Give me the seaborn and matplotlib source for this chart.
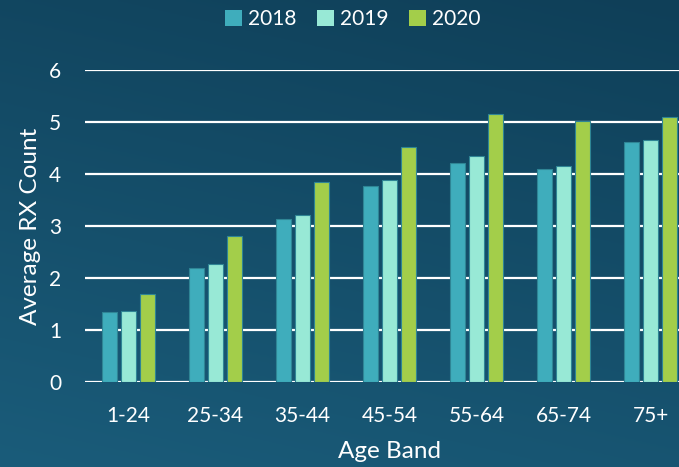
import numpy as np
import pandas as pd
import matplotlib
matplotlib.use("Agg")
import matplotlib.pyplot as plt
import seaborn as sns
from matplotlib.patches import Patch

bands = ["1-24", "25-34", "35-44", "45-54", "55-64", "65-74", "75+"]
years = ["2018", "2019", "2020"]
v2018 = [1.35, 2.20, 3.14, 3.76, 4.22, 4.10, 4.62]
v2019 = [1.37, 2.26, 3.21, 3.88, 4.34, 4.15, 4.65]
v2020 = [1.69, 2.81, 3.85, 4.52, 5.15, 5.01, 5.10]
colors = ["#3FADBC", "#98E9D6", "#A3CE4A"]

df = pd.DataFrame({
    "band": bands * 3,
    "year": ["2018"] * 7 + ["2019"] * 7 + ["2020"] * 7,
    "value": v2018 + v2019 + v2020,
})

sns.set_theme(style="white")
plt.rcParams["font.family"] = ["Lato", "DejaVu Sans"]

W, H = 679, 467
fig = plt.figure(figsize=(W / 100, H / 100), dpi=100)

# background gradient
bg = fig.add_axes([0, 0, 1, 1], zorder=-10)
yy, xx = np.mgrid[0:1:200j, 0:1:300j]
t = 0.75 * yy + 0.25 * (1 - xx)
top = np.array([0x0f, 0x3f, 0x58]) / 255
bot = np.array([0x1a, 0x5c, 0x7a]) / 255
img = top[None, None, :] * (1 - t[..., None]) + bot[None, None, :] * t[..., None]
bg.imshow(img, aspect="auto", extent=[0, 1, 0, 1], origin="upper")
bg.axis("off")

ax = fig.add_axes([85 / W, (H - 382) / H, 609 / W, 312 / H])
ax.patch.set_alpha(0)
sns.barplot(data=df, x="band", y="value", hue="year", hue_order=years,
            palette=colors, saturation=1, width=0.655, gap=0.2, ax=ax,
            edgecolor="#2f8595", linewidth=0.8, legend=False, zorder=3)
ax.set_ylim(0, 6)
ax.set_xlim(-0.5, 6.5)
ax.set_yticks(range(0, 7))
ax.grid(axis="y", color="white", linewidth=1.6, zorder=1)
ax.set_axisbelow(True)
for s in ax.spines.values():
    s.set_visible(False)
ax.tick_params(axis="both", length=0, colors="white", labelsize=15)
ax.tick_params(axis="x", pad=17)
ax.tick_params(axis="y", pad=17)
ax.set_xlabel("Age Band", color="white", fontsize=17.5, labelpad=11)
ax.set_ylabel("Average RX Count", color="white", fontsize=17.5, labelpad=6)

handles = [Patch(facecolor=c, edgecolor="none", label=y) for c, y in zip(colors, years)]
fig.legend(handles=handles, loc="center", bbox_to_anchor=(353 / W, 1 - 19 / H),
           ncol=3, frameon=False, fontsize=15, labelcolor="white",
           handlelength=0.8, handleheight=0.8, handletextpad=0.3, columnspacing=1.0)

fig.savefig("out.png", dpi=100)
